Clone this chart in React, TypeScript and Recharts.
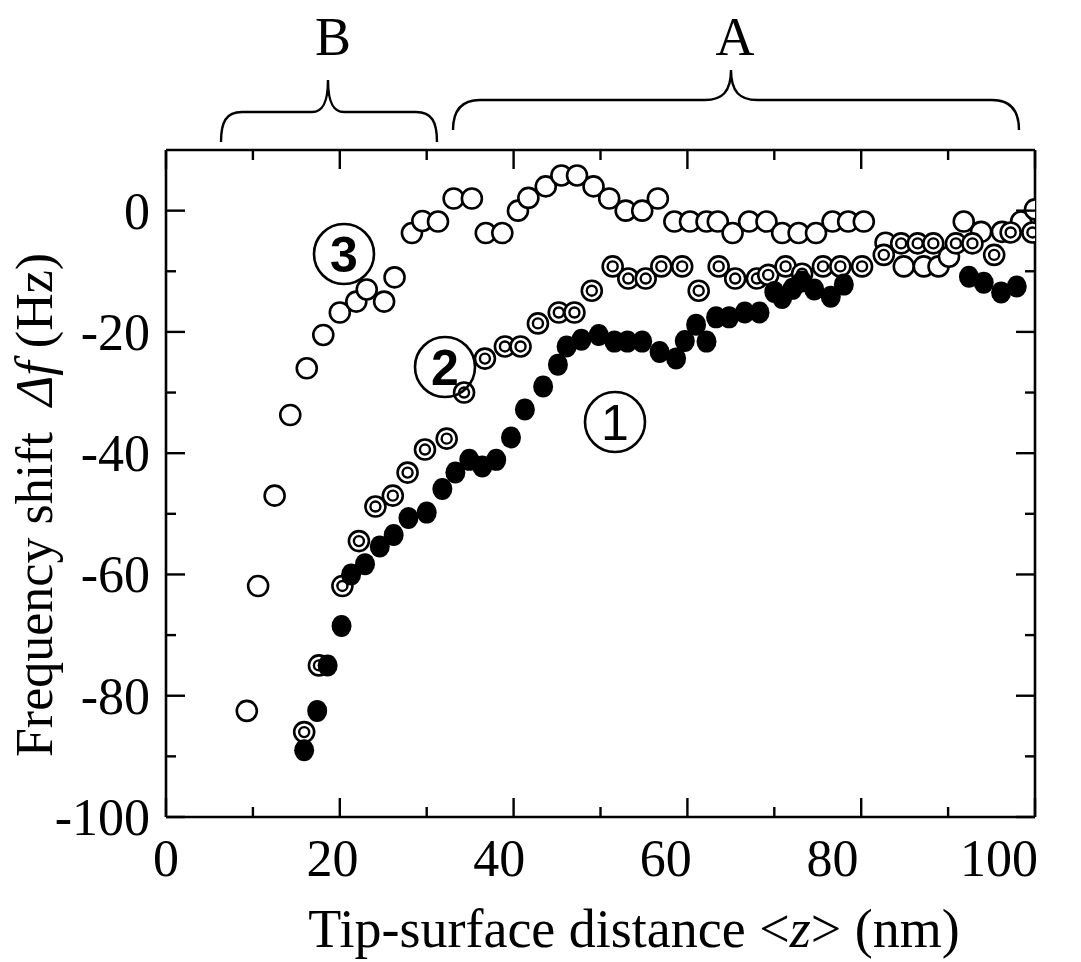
import React from "react";
import { ScatterChart, Scatter, XAxis, YAxis } from "recharts";

if (typeof document !== "undefined") document.body.style.margin = "0";

// curve 3: open circles
const openX = [9.3, 10.6, 12.5, 14.3, 16.2, 18.1, 20.0, 21.9, 23.1, 25.1, 26.3, 28.3, 29.5, 31.3, 33.1, 35.2, 36.8, 38.7, 40.5, 41.7, 43.7, 45.5, 47.3, 49.2, 51.0, 52.9, 54.8, 56.6, 58.5, 60.3, 62.2, 63.5, 65.2, 67.1, 69.1, 70.9, 72.8, 74.8, 76.7, 78.5, 80.3, 82.8, 84.9, 87.2, 88.9, 90.1, 91.8, 93.8, 96.2, 98.4, 100];
const openY = [-82.5, -61.9, -47, -33.7, -26, -20.5, -16.8, -15, -13, -15, -11, -3.7, -1.7, -1.8, 2, 2, -3.7, -3.7, 0, 2.1, 4, 5.8, 5.8, 4, 2, 0, 0, 2, -1.8, -1.8, -1.8, -1.8, -3.7, -1.8, -1.8, -3.7, -3.7, -3.7, -1.8, -1.8, -1.8, -5.3, -9.2, -9.2, -9.2, -7.6, -1.8, -3.5, -3.5, -1.8, 0.2];

// curve 2: double circles
const doubleX = [15.9, 17.6, 20.3, 22.2, 24.1, 26.1, 27.8, 29.8, 32.3, 34.3, 36.7, 39.0, 40.8, 42.8, 45.2, 47.0, 49.0, 51.4, 53.2, 55.2, 57.0, 59.4, 61.3, 63.6, 65.5, 68.0, 69.3, 71.3, 73.2, 75.6, 77.6, 80.1, 82.6, 84.6, 86.5, 88.3, 90.9, 92.8, 95.3, 97.2, 99.7];
const doubleY = [-86, -75, -61.9, -54.5, -48.8, -47, -43.2, -39.4, -37.6, -30, -24.4, -22.4, -22.4, -18.6, -16.8, -16.8, -13.2, -9.2, -11.2, -11.2, -9.2, -9.2, -13.2, -9.2, -11.2, -11.2, -10.6, -9.2, -10.4, -9.2, -9.2, -9.2, -7.3, -5.4, -5.4, -5.4, -5.4, -5.4, -7.3, -3.6, -3.6];

// curve 1: filled circles
const filledX = [15.9, 17.4, 18.6, 20.2, 21.3, 22.9, 24.6, 26.2, 27.9, 30.0, 31.8, 33.3, 34.9, 36.4, 38.0, 39.7, 41.3, 43.4, 45.1, 46.1, 47.8, 49.8, 51.6, 53.1, 54.8, 56.8, 58.7, 59.7, 61.0, 62.2, 63.3, 64.8, 66.6, 68.3, 70.0, 70.9, 72.1, 73.2, 74.6, 76.5, 78.0, 92.4, 94.1, 96.1, 97.9];
const filledY = [-89, -82.5, -75, -68.5, -60, -58.3, -55.4, -53.5, -50.7, -49.8, -45.9, -43.2, -41.1, -42.2, -41.1, -37.4, -32.8, -29, -25.4, -22.4, -21.3, -20.5, -21.6, -21.6, -21.6, -23.3, -24.4, -21.5, -18.8, -21.6, -17.6, -17.6, -16.8, -16.8, -13.4, -14.4, -12.9, -11.7, -13.0, -14.2, -12.2, -10.9, -11.9, -13.5, -12.5];

const xTicks = [0, 10, 20, 30, 40, 50, 60, 70, 80, 90, 100];
const yTicks = [-100, -90, -80, -70, -60, -50, -40, -30, -20, -10, 0];

const toPts = (xs: number[], ys: number[]) => xs.map((x, i) => ({ x, y: ys[i] }));

const SERIF = "'Liberation Serif', 'Times New Roman', serif";
const SANS = "'Liberation Sans', Arial, sans-serif";

const OpenDot = (p: any) => (
  <circle cx={p.cx} cy={p.cy} r={10} fill="#fff" stroke="#000" strokeWidth={2.6} />
);
const DoubleDot = (p: any) => (
  <g>
    <circle cx={p.cx} cy={p.cy} r={10} fill="#fff" stroke="#000" strokeWidth={2.6} />
    <circle cx={p.cx} cy={p.cy} r={5} fill="#fff" stroke="#000" strokeWidth={2.4} />
  </g>
);
const FilledDot = (p: any) => (
  <ellipse cx={p.cx} cy={p.cy} rx={10} ry={11} fill="#000" />
);

const BottomTick = ({ x, y, payload }: any) => {
  const v = payload.value;
  const major = v % 20 === 0;
  return (
    <g>
      <line x1={x} x2={x} y1={y} y2={y - (major ? 19 : 10)} stroke="#000" strokeWidth={2.4} />
      {major && (
        <text x={x - v * 0.36} y={y + 59} textAnchor="middle" fontFamily={SERIF} fontSize={52} fill="#000">
          {v}
        </text>
      )}
    </g>
  );
};
const TopTick = ({ x, y, payload }: any) => (
  <line x1={x} x2={x} y1={y} y2={y + (payload.value % 20 === 0 ? 19 : 10)} stroke="#000" strokeWidth={2.4} />
);
const LeftTick = ({ x, y, payload }: any) => {
  const v = payload.value;
  const major = v % 20 === 0;
  return (
    <g>
      <line x1={x} x2={x + (major ? 19 : 10)} y1={y} y2={y} stroke="#000" strokeWidth={2.4} />
      {major && (
        <text x={x - 16} y={y + 18} textAnchor="end" fontFamily={SERIF} fontSize={52} fill="#000">
          {v}
        </text>
      )}
    </g>
  );
};
const RightTick = ({ x, y, payload }: any) => (
  <line x1={x} x2={x - (payload.value % 20 === 0 ? 19 : 10)} y1={y} y2={y} stroke="#000" strokeWidth={2.4} />
);

const axisLine = { stroke: "#000", strokeWidth: 2.6 };

export default function App() {
  return (
    <div style={{ position: "relative", width: 1081, height: 962, background: "#fff" }}>
      <ScatterChart width={1081} height={962} margin={{ top: 140, right: 36, bottom: 45, left: 46 }}>
        <XAxis
          type="number"
          dataKey="x"
          domain={[0, 100]}
          ticks={xTicks}
          height={100}
          tickSize={0}
          tickMargin={0}
          tickLine={false}
          axisLine={axisLine}
          tick={<BottomTick />}
          allowDataOverflow
        />
        <XAxis
          xAxisId="top"
          orientation="top"
          type="number"
          dataKey="x"
          domain={[0, 100]}
          ticks={xTicks}
          height={10}
          tickSize={0}
          tickMargin={0}
          tickLine={false}
          axisLine={axisLine}
          tick={<TopTick />}
          allowDataOverflow
        />
        <YAxis
          type="number"
          dataKey="y"
          domain={[-100, 10]}
          ticks={yTicks}
          width={120}
          tickSize={0}
          tickMargin={0}
          tickLine={false}
          axisLine={axisLine}
          tick={<LeftTick />}
          allowDataOverflow
        />
        <YAxis
          yAxisId="right"
          orientation="right"
          type="number"
          dataKey="y"
          domain={[-100, 10]}
          ticks={yTicks}
          width={10}
          tickSize={0}
          tickMargin={0}
          tickLine={false}
          axisLine={axisLine}
          tick={<RightTick />}
          allowDataOverflow
        />
        <Scatter data={toPts(openX, openY)} shape={OpenDot} isAnimationActive={false} />
        <Scatter data={toPts(doubleX, doubleY)} shape={DoubleDot} isAnimationActive={false} />
        <Scatter data={toPts(filledX, filledY)} shape={FilledDot} isAnimationActive={false} />
      </ScatterChart>

      <svg width={1081} height={962} style={{ position: "absolute", left: 0, top: 0, pointerEvents: "none" }}>
        {/* region braces */}
        <path
          d="M 221 142 C 221 122, 226 112, 242 112 L 312 112 C 322 112, 328 104, 328 80 C 328 104, 334 112, 344 112 L 416 112 C 432 112, 437 122, 437 142"
          fill="none" stroke="#000" strokeWidth={2.4}
        />
        <path
          d="M 453 130 C 453 110, 462 100, 480 100 L 705 100 C 722 100, 731 92, 731 70 C 731 92, 740 100, 757 100 L 992 100 C 1010 100, 1019 110, 1019 130"
          fill="none" stroke="#000" strokeWidth={2.4}
        />
        <text x={333} y={55} textAnchor="middle" fontFamily={SERIF} fontSize={54}>B</text>
        <text x={735} y={55} textAnchor="middle" fontFamily={SERIF} fontSize={54}>A</text>

        {/* curve labels */}
        <circle cx={344} cy={254} r={30} fill="none" stroke="#000" strokeWidth={2.6} />
        <text x={344} y={272} textAnchor="middle" fontFamily={SANS} fontWeight="bold" fontSize={50}>3</text>
        <circle cx={445} cy={367} r={30} fill="none" stroke="#000" strokeWidth={2.6} />
        <text x={445} y={385} textAnchor="middle" fontFamily={SANS} fontWeight="bold" fontSize={50}>2</text>
        <circle cx={615} cy={422} r={30} fill="none" stroke="#000" strokeWidth={2.6} />
        <text x={615} y={440} textAnchor="middle" fontFamily={SANS} fontSize={50}>1</text>

        {/* axis titles */}
        <text x={634} y={947} textAnchor="middle" fontFamily={SERIF} fontSize={54}>
          Tip-surface distance &lt;<tspan fontStyle="italic">z</tspan>&gt; (nm)
        </text>
        <text transform="translate(52, 505) rotate(-90)" textAnchor="middle" fontFamily={SERIF} fontSize={52}>
          Frequency shift{"\u00a0\u00a0"}<tspan fontStyle="italic">Δf</tspan>{"\u00a0"}(Hz)
        </text>
      </svg>
    </div>
  );
}
